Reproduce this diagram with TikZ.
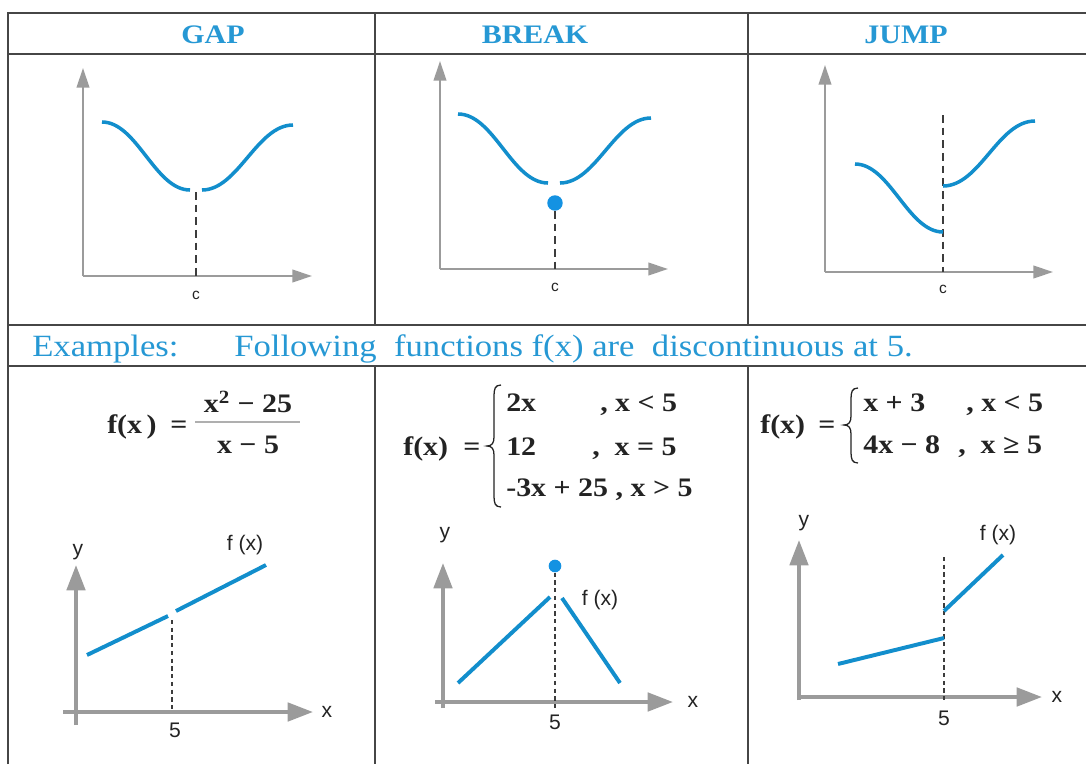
\documentclass[tikz,border=0pt]{standalone}
\usepackage{fontspec}
\setmainfont{Liberation Serif}[FakeStretch=1.12]
\newfontfamily\labelfont{Liberation Sans}
\usepackage{tikz}
\usetikzlibrary{arrows.meta}
\definecolor{headblue}{RGB}{38,152,212}
\definecolor{curveblue}{RGB}{18,142,204}
\definecolor{dotblue}{RGB}{20,146,226}
\definecolor{axisgray}{RGB}{155,155,155}
\definecolor{gridgray}{RGB}{70,70,70}
\definecolor{dashgray}{RGB}{60,60,60}
\definecolor{fracgray}{RGB}{175,175,175}
\definecolor{textdark}{RGB}{35,35,35}

\begin{document}
\begin{tikzpicture}[x=0.025cm,y=-0.025cm,
  rule/.style={draw=gridgray,line width=1pt},
  colhead/.style={font=\fontsize{19}{22}\selectfont\bfseries,text=headblue,inner sep=0pt},
  extext/.style={font=\fontsize{22}{25}\selectfont,text=headblue,anchor=base west,inner sep=0pt},
  formula/.style={font=\fontsize{19}{22}\selectfont\bfseries,text=textdark,anchor=base west,inner sep=0pt},
  bracepath/.style={draw=textdark,line width=0.9pt},
  fracbar/.style={draw=fracgray,line width=0.8pt},
  axisline/.style={draw=axisgray,line width=1.4pt,-{Triangle[length=14pt,width=9pt]}},
  bigaxisline/.style={draw=axisgray,line width=2.8pt,-{Triangle[length=18pt,width=13pt]}},
  bluecurve/.style={draw=curveblue,line width=2.5pt},
  seg/.style={draw=curveblue,line width=2.8pt},
  guide/.style={draw=dashgray,line width=1pt,dash pattern=on 5.5pt off 3.5pt},
  smallguide/.style={draw=dashgray,line width=0.8pt,dash pattern=on 3pt off 2.5pt},
  clabel/.style={font=\labelfont\fontsize{11}{13}\selectfont,text=textdark,inner sep=0pt},
  lab/.style={font=\labelfont\fontsize{15}{17}\selectfont,text=textdark,inner sep=0pt},
  bluedot/.style={circle,fill=dotblue,inner sep=0pt,minimum size=#1}
]
\useasboundingbox (0,0) rectangle (1086,764);
\draw[rule] (8,764) -- (8,13) -- (1086,13);
\draw[rule] (8,54) -- (1086,54);
\draw[rule] (8,325) -- (1086,325);
\draw[rule] (8,366) -- (1086,366);
\draw[rule] (375,13) -- (375,325) (375,366) -- (375,764);
\draw[rule] (748,13) -- (748,325) (748,366) -- (748,764);

\node[colhead] (gap) at (213,35) {GAP};
\node[colhead] (brk) at (535,35) {BREAK};
\node[colhead] (jmp) at (906,35) {JUMP};

\draw[axisline] (83,276) -- (83,68);
\draw[axisline] (83,276) -- (312,276);
\draw[bluecurve] (102,122) .. controls (137,122) and (155,190) .. (190,190);
\draw[bluecurve] (202,190) .. controls (238,190) and (257,125) .. (293,125);
\draw[guide] (196,192) -- (196,276);
\node[clabel] (c1) at (196,295) {c};

\draw[axisline] (440,269) -- (440,61);
\draw[axisline] (440,269) -- (668,269);
\draw[bluecurve] (458,114) .. controls (494,114) and (512,183) .. (548,183);
\draw[bluecurve] (560,183) .. controls (596,183) and (615,118) .. (651,118);
\node[bluedot=11pt] (pt1) at (555,203) {};
\draw[guide] (pt1) -- (555,269);
\node[clabel] (c2) at (555,287) {c};

\draw[axisline] (825,272) -- (825,65);
\draw[axisline] (825,272) -- (1053,272);
\draw[guide] (943,115) -- (943,272);
\draw[bluecurve] (855,164) .. controls (890,164) and (908,232) .. (943,232);
\draw[bluecurve] (943,186) .. controls (980,186) and (998,121) .. (1035,121);
\node[clabel] (c3) at (943,289) {c};

\node[extext] (exl) at (32,356) {Examples:};
\node[extext] (exr) at (234,356) {Following\ \ functions f(x) are\ \ discontinuous at 5.};

\node[formula] (f1) at (107,433) {f(x\,)};
\node[formula] (eq1) at (170,433) {=};
\node[formula,anchor=base] (num1) at (248,412) {x\textsuperscript{2} − 25};
\draw[fracbar] (195,422) -- (300,422);
\node[formula,anchor=base] (den1) at (248,453) {x − 5};

\node[formula] (f2) at (403,455) {f(x)};
\node[formula] (eq2) at (463,455) {=};
\draw[bracepath] (501,385) .. controls (495,385) and (494,389) .. (494,396) -- (494,437)
  .. controls (494,443) and (492,446) .. (487,446) .. controls (492,446) and (494,449) .. (494,455)
  -- (494,496) .. controls (494,503) and (495,507) .. (501,507);
\node[formula] (r21) at (506,411) {2x};
\node[formula] (c21) at (600,411) {, x < 5};
\node[formula] (r22) at (506,455) {12};
\node[formula] (c22) at (592,455) {,\ \ x = 5};
\node[formula] (r23) at (506,496) {-3x + 25 , x > 5};

\node[formula] (f3) at (760,433) {f(x)};
\node[formula] (eq3) at (818,433) {=};
\draw[bracepath] (858,388) .. controls (852,388) and (851,392) .. (851,399) -- (851,416)
  .. controls (851,422) and (849,425) .. (844,425) .. controls (849,425) and (851,428) .. (851,434)
  -- (851,452) .. controls (851,459) and (852,463) .. (858,463);
\node[formula] (r31) at (863,411) {x + 3};
\node[formula] (c31) at (966,411) {, x < 5};
\node[formula] (r32) at (863,453) {4x − 8};
\node[formula] (c32) at (958,453) {,\ \ x ≥ 5};

\draw[bigaxisline] (76,725) -- (76,565);
\draw[bigaxisline] (63,712) -- (313,712);
\draw[seg] (87,655) -- (168,616);
\draw[seg] (176,611) -- (266,565);
\draw[smallguide] (172,620) -- (172,712);
\node[lab] (five1) at (175,730) {5};
\node[lab] (xl1) at (327,712) {x};
\node[lab] (yl1) at (78,552) {y};
\node[lab] (fx1) at (245,545) {f (x)};

\draw[bigaxisline] (443,708) -- (443,563);
\draw[bigaxisline] (435,702) -- (673,702);
\draw[seg] (458,683) -- (550,597);
\draw[seg] (562,598) -- (620,683);
\node[bluedot=9pt] (pt2) at (555,566) {};
\draw[smallguide] (pt2) -- (555,708);
\node[lab] (five2) at (555,722) {5};
\node[lab] (xl2) at (693,702) {x};
\node[lab] (yl2) at (445,535) {y};
\node[lab] (fx2) at (600,600) {f (x)};

\draw[bigaxisline] (799,700) -- (799,540);
\draw[bigaxisline] (799,697) -- (1042,697);
\draw[smallguide] (944,557) -- (944,702);
\draw[seg] (838,664) -- (944,638);
\draw[seg] (944,611) -- (1003,555);
\node[lab] (five3) at (944,718) {5};
\node[lab] (xl3) at (1057,697) {x};
\node[lab] (yl3) at (804,523) {y};
\node[lab] (fx3) at (998,535) {f (x)};
\end{tikzpicture}
\end{document}
